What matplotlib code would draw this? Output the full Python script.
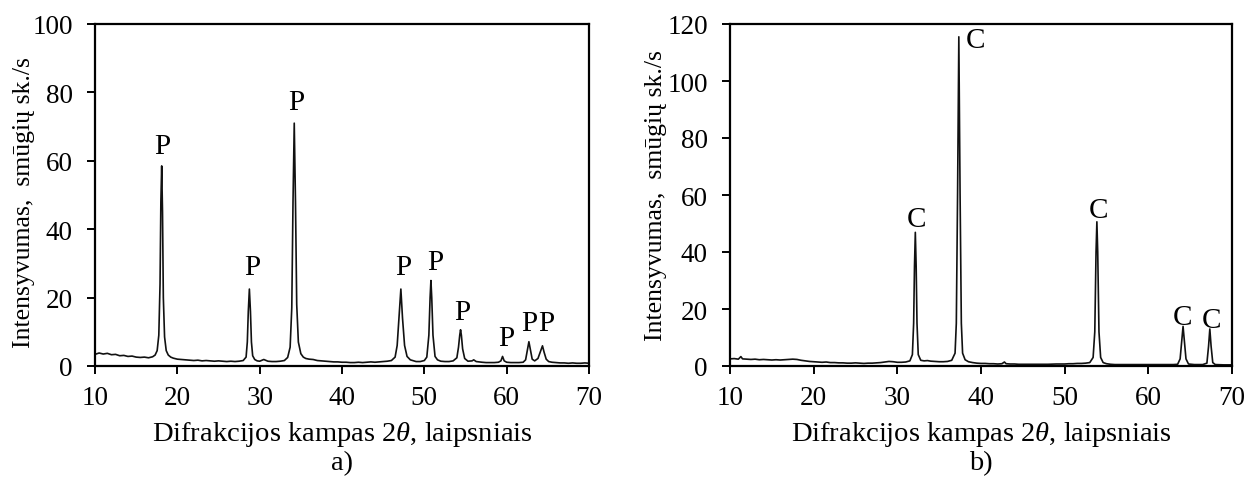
import matplotlib
matplotlib.use("Agg")
import matplotlib.pyplot as plt

plt.rcParams['font.family'] = ['Liberation Serif', 'DejaVu Serif']
plt.rcParams['mathtext.fontset'] = 'custom'
plt.rcParams['mathtext.it'] = 'Liberation Serif:italic'
plt.rcParams['mathtext.rm'] = 'Liberation Serif'

# ---------------- data: panel a ----------------
xa = [10, 10.5, 11, 11.5, 12, 12.5, 13, 13.5, 14, 14.5, 15, 15.5, 16, 16.5, 17, 17.3,
      17.55, 17.75, 17.9, 18.0, 18.1, 18.2, 18.3, 18.45, 18.65, 18.9, 19.2, 19.5,
      20, 20.5, 21, 21.5, 22, 22.5, 23, 23.5, 24, 24.5, 25, 25.5, 26, 26.5, 27, 27.5, 28,
      28.35, 28.5, 28.62, 28.75, 28.88, 29.0, 29.15, 29.4, 29.7, 30, 30.5, 31, 31.5, 32, 32.5, 33,
      33.4, 33.7, 33.9, 34.05, 34.2, 34.35, 34.5, 34.7, 35.0, 35.3, 35.6, 36, 36.5, 37, 37.5, 38,
      38.5, 39, 39.5, 40, 40.5, 41, 41.5, 42, 42.5, 43, 43.5, 44, 44.5, 45, 45.5, 46,
      46.45, 46.7, 46.95, 47.15, 47.35, 47.6, 47.9, 48.3, 48.7, 49, 49.5, 50,
      50.3, 50.55, 50.7, 50.8, 50.9, 51.05, 51.3, 51.6, 52, 52.5, 53, 53.5,
      53.95, 54.15, 54.3, 54.4, 54.5, 54.65, 54.9, 55.3, 55.8, 56.0, 56.3, 57, 57.5, 58, 58.5, 59,
      59.3, 59.5, 59.7, 60, 60.5, 61, 61.5, 62, 62.3, 62.5, 62.7, 62.9, 63.1, 63.4,
      63.8, 64.1, 64.35, 64.55, 64.8, 65.1, 65.5, 66, 66.5, 67, 67.5, 68, 68.5, 69, 69.5, 70]
ya = [3.4, 3.8, 3.5, 3.7, 3.3, 3.4, 3.0, 3.1, 2.8, 2.9, 2.6, 2.5, 2.6, 2.4, 2.7, 3.2,
      4.5, 9.0, 24.0, 48.0, 58.5, 45.0, 20.0, 8.5, 4.5, 3.2, 2.6, 2.3,
      2.0, 1.9, 1.8, 1.7, 1.6, 1.7, 1.5, 1.6, 1.5, 1.4, 1.5, 1.4, 1.3, 1.4, 1.3, 1.4, 1.6,
      2.6, 7.0, 16.0, 22.5, 16.0, 7.0, 3.0, 1.9, 1.5, 1.4, 1.9, 1.4, 1.3, 1.3, 1.4, 1.6,
      2.5, 5.5, 17.0, 48.0, 71.0, 48.0, 18.0, 7.0, 3.6, 2.6, 2.2, 2.0, 1.9, 1.6, 1.5, 1.4,
      1.3, 1.2, 1.2, 1.1, 1.1, 1.0, 1.0, 1.1, 1.0, 1.1, 1.2, 1.1, 1.2, 1.3, 1.4, 1.6,
      2.6, 6.0, 15.0, 22.5, 14.0, 6.0, 2.8, 1.8, 1.5, 1.3, 1.3, 1.6,
      2.6, 9.0, 20.0, 25.0, 20.0, 9.0, 2.8, 1.8, 1.4, 1.3, 1.3, 1.5,
      2.4, 5.5, 9.0, 10.6, 9.0, 5.0, 2.2, 1.4, 1.5, 1.8, 1.3, 1.1, 1.0, 1.0, 1.0, 1.1,
      1.5, 2.8, 1.5, 1.1, 1.0, 1.0, 1.0, 1.1, 1.8, 4.5, 7.1, 4.5, 2.0, 1.5,
      2.2, 4.2, 5.9, 4.0, 2.0, 1.3, 1.1, 1.0, 0.9, 0.9, 0.8, 0.9, 0.8, 0.8, 0.9, 0.8]
labels_a = ['P', 'P', 'P', 'P', 'P', 'P', 'P', 'P', 'P']
lab_xa = [18.2, 29.05, 34.45, 47.45, 51.35, 54.65, 59.9, 62.8, 64.75]
lab_ya = [62.4, 27.0, 75.0, 26.9, 28.4, 13.7, 6.0, 10.5, 10.5]

# ---------------- data: panel b ----------------
xb = [10, 10.5, 11, 11.3, 11.5, 12, 12.5, 13, 13.5, 14, 14.5, 15, 15.5, 16, 16.5, 17, 17.5, 18,
      18.5, 19, 19.5, 20, 20.5, 21, 21.5, 22, 22.5, 23, 23.5, 24, 24.5, 25, 25.5, 26, 26.5, 27,
      27.5, 28, 28.5, 29, 29.5, 30, 30.5, 31, 31.5,
      31.8, 31.95, 32.05, 32.15, 32.25, 32.35, 32.5, 32.8, 33.2, 33.6, 34, 34.5, 35, 35.5, 36, 36.5,
      36.9, 37.05, 37.2, 37.35, 37.5, 37.65, 37.8, 38.1, 38.5, 39, 39.5, 40, 40.5, 41, 41.5, 42,
      42.5, 42.8, 43, 43.5, 44, 44.5, 45, 46, 47, 48, 49, 50, 50.5, 51, 51.5, 52, 52.5, 53,
      53.4, 53.6, 53.75, 53.85, 53.95, 54.1, 54.3, 54.6, 55, 55.5, 56, 57, 58, 59, 60, 61, 62, 63, 63.5,
      63.8, 64.0, 64.15, 64.3, 64.5, 64.8, 65.5, 66.5,
      67.0, 67.2, 67.35, 67.5, 67.7, 68, 69, 70]
yb = [2.5, 2.6, 2.4, 3.3, 2.5, 2.4, 2.3, 2.4, 2.2, 2.3, 2.2, 2.1, 2.2, 2.1, 2.2, 2.3, 2.4, 2.3,
      2.0, 1.8, 1.6, 1.5, 1.4, 1.3, 1.4, 1.2, 1.2, 1.1, 1.1, 1.0, 1.0, 1.1, 1.0, 0.9, 1.0, 1.0,
      1.1, 1.2, 1.4, 1.6, 1.5, 1.3, 1.3, 1.4, 1.8,
      4.0, 15.0, 35.0, 46.9, 35.0, 15.0, 4.0, 2.0, 1.8, 1.9, 1.7, 1.6, 1.5, 1.5, 1.6, 2.0,
      4.5, 15.0, 60.0, 115.5, 60.0, 15.0, 4.5, 2.2, 1.5, 1.2, 1.0, 0.9, 0.9, 0.8, 0.8, 0.7,
      0.8, 1.4, 0.8, 0.7, 0.7, 0.6, 0.6, 0.6, 0.6, 0.6, 0.7, 0.7, 0.8, 0.8, 0.9, 0.9, 1.0, 1.2,
      3.0, 12.0, 40.0, 50.6, 40.0, 12.0, 3.0, 1.2, 0.8, 0.6, 0.5, 0.5, 0.5, 0.5, 0.5, 0.5, 0.5, 0.5, 0.6,
      2.5, 9.0, 13.9, 9.0, 2.5, 0.7, 0.5, 0.5,
      1.0, 7.0, 13.0, 7.0, 1.2, 0.5, 0.4, 0.4]
labels_b = ['C', 'C', 'C', 'C', 'C']
lab_xb = [32.35, 39.4, 54.0, 64.05, 67.55]
lab_yb = [49.2, 111.8, 52.2, 14.7, 13.6]

xticks = [10, 20, 30, 40, 50, 60, 70]
yticks_a = [0, 20, 40, 60, 80, 100]
yticks_b = [0, 20, 40, 60, 80, 100, 120]
xlabel = r"Difrakcijos kampas $\mathit{2\theta}$, laipsniais"
ylabel = "Intensyvumas,  smūgių sk./s"

W, H = 1256, 489
fig = plt.figure(figsize=(W / 100, H / 100), dpi=100)
axa = fig.add_axes([95 / W, (H - 367) / H, 494 / W, 342 / H])
axb = fig.add_axes([730 / W, (H - 367) / H, 502 / W, 342 / H])

TICK_FS = 19.5
LAB_FS = 20.5
YLAB_FS = 18.5
MARK_FS = 21

def style(ax, yticks, ymax):
    ax.set_xlim(10, 70)
    ax.set_ylim(0, ymax)
    ax.set_xticks(xticks)
    ax.set_yticks(yticks)
    for s in ax.spines.values():
        s.set_linewidth(1.6)
        s.set_color('black')
    ax.tick_params(axis='both', direction='out', length=6, width=1.4,
                   labelsize=TICK_FS, colors='black')
    ax.tick_params(axis='x', pad=8)
    ax.tick_params(axis='y', pad=10)
    ax.set_xlabel(xlabel, fontsize=LAB_FS, labelpad=6)
    ax.set_ylabel(ylabel, fontsize=YLAB_FS)

axa.plot(xa, ya, color='#111111', lw=1.2)
style(axa, yticks_a, 100)
for t, x, y in zip(labels_a, lab_xa, lab_ya):
    axa.text(x, y, t, fontsize=MARK_FS, ha='center', va='baseline')
axa.yaxis.set_label_coords(-0.121, 0.48)

axb.plot(xb, yb, color='#111111', lw=1.2)
style(axb, yticks_b, 120)
for t, x, y in zip(labels_b, lab_xb, lab_yb):
    axb.text(x, y, t, fontsize=MARK_FS, ha='center', va='baseline')
axb.yaxis.set_label_coords(-0.125, 0.50)

fig.text((95 + 247) / W, 1 - 464 / H, 'a)', fontsize=LAB_FS, ha='center', va='center')
fig.text((730 + 251) / W, 1 - 464 / H, 'b)', fontsize=LAB_FS, ha='center', va='center')

fig.savefig('out.png', dpi=100)
